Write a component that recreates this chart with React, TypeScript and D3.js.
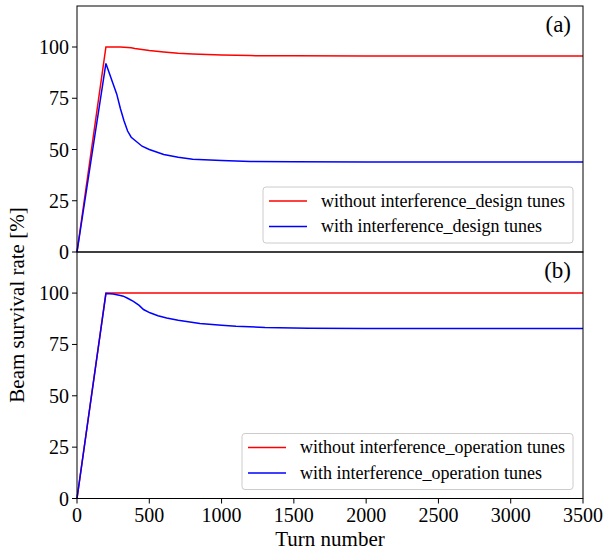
import React from "react";
import { scaleLinear, line } from "d3";

// turn numbers sampled along the curves
const turnsA = [0, 200, 250, 275, 300, 325, 350, 375, 400, 450, 500, 600, 700, 800, 1000, 1200, 1500, 2000, 3500];
const withoutA = [0, 100, 100, 100, 100, 99.9, 99.8, 99.6, 99.3, 98.8, 98.3, 97.6, 97.0, 96.6, 96.1, 95.8, 95.7, 95.6, 95.6];
const withA = [0, 92, 82, 77, 70, 64, 59, 56, 54.5, 51.6, 50, 47.6, 46.2, 45.3, 44.6, 44.2, 44, 43.9, 43.9];

const turnsB = [0, 200, 250, 300, 320, 350, 390, 430, 460, 505, 560, 620, 700, 850, 1000, 1100, 1300, 1600, 2000, 3500];
const withoutB = [0, 100, 100, 100, 100, 100, 100, 100, 100, 100, 100, 100, 100, 100, 100, 100, 100, 100, 100, 100];
const withB = [0, 99.8, 99.5, 98.8, 98.5, 97.5, 96, 94, 92, 90.4, 89, 87.9, 86.8, 85.2, 84.4, 83.9, 83.3, 82.9, 82.8, 82.8];

const xTicks = [0, 500, 1000, 1500, 2000, 2500, 3000, 3500];
const yTicks = [0, 25, 50, 75, 100];

const legendA = ["without interference_design tunes", "with interference_design tunes"];
const legendB = ["without interference_operation tunes", "with interference_operation tunes"];

const W = 606;
const H = 551;
const left = 77;
const right = 583;

type PanelProps = {
  top: number;
  bottom: number;
  turns: number[];
  red: number[];
  blue: number[];
  labels: string[];
  tag: string;
  legendX: number;
  legendW: number;
  showX: boolean;
};

function Panel({ top, bottom, turns, red, blue, labels, tag, legendX, legendW, showX }: PanelProps) {
  const x = scaleLinear().domain([0, 3500]).range([left, right]);
  const y = scaleLinear().domain([0, 120]).range([bottom, top]);
  const path = (vals: number[]) =>
    line<number>()
      .x((_, i) => x(turns[i]))
      .y((d) => y(d))(vals) || "";

  const legendTop = bottom - 65;
  return (
    <g>
      {/* curves */}
      <path d={path(red)} fill="none" stroke="#ff0000" strokeWidth={1.5} />
      <path d={path(blue)} fill="none" stroke="#0000ff" strokeWidth={1.5} />

      {/* y axis ticks */}
      {yTicks.map((t) => (
        <g key={t}>
          <line x1={left - 5} x2={left} y1={y(t)} y2={y(t)} stroke="#000" />
          <text x={left - 8} y={y(t)} dy="0.35em" textAnchor="end" fontSize={20}>
            {t}
          </text>
        </g>
      ))}

      {/* x axis ticks, only on the lower panel */}
      {showX &&
        xTicks.map((t) => (
          <g key={t}>
            <line x1={x(t)} x2={x(t)} y1={bottom} y2={bottom + 5} stroke="#000" />
            <text x={x(t)} y={bottom + 23} textAnchor="middle" fontSize={20}>
              {t}
            </text>
          </g>
        ))}

      {/* legend */}
      <rect
        x={legendX}
        y={legendTop}
        width={legendW}
        height={56}
        rx={3}
        fill="#fff"
        fillOpacity={0.8}
        stroke="#cccccc"
      />
      {labels.map((l, i) => (
        <g key={l}>
          <line
            x1={legendX + 6}
            x2={legendX + 44}
            y1={legendTop + 14 + i * 25.5}
            y2={legendTop + 14 + i * 25.5}
            stroke={i === 0 ? "#ff0000" : "#0000ff"}
            strokeWidth={1.5}
          />
          <text x={legendX + 58} y={legendTop + 14 + i * 25.5} dy="0.33em" fontSize={18}>
            {l}
          </text>
        </g>
      ))}

      <text x={right - 12} y={top + 26} textAnchor="end" fontSize={23}>
        {tag}
      </text>

      {/* frame */}
      <rect x={left} y={top} width={right - left} height={bottom - top} fill="none" stroke="#000" strokeWidth={1} />
    </g>
  );
}

export default function App() {
  return (
    <svg
      width={W}
      height={H}
      style={{ position: "absolute", left: 0, top: 0, background: "#fff", fontFamily: "Liberation Serif" }}
    >
      <Panel
        top={6}
        bottom={252}
        turns={turnsA}
        red={withoutA}
        blue={withA}
        labels={legendA}
        tag="(a)"
        legendX={263}
        legendW={310}
        showX={false}
      />
      <Panel
        top={252}
        bottom={498.5}
        turns={turnsB}
        red={withoutB}
        blue={withB}
        labels={legendB}
        tag="(b)"
        legendX={242}
        legendW={331}
        showX={true}
      />
      <text transform={`translate(24, 305) rotate(-90)`} textAnchor="middle" fontSize={21}>
        Beam survival rate [%]
      </text>
      <text x={(left + right) / 2} y={546} textAnchor="middle" fontSize={21}>
        Turn number
      </text>
    </svg>
  );
}
